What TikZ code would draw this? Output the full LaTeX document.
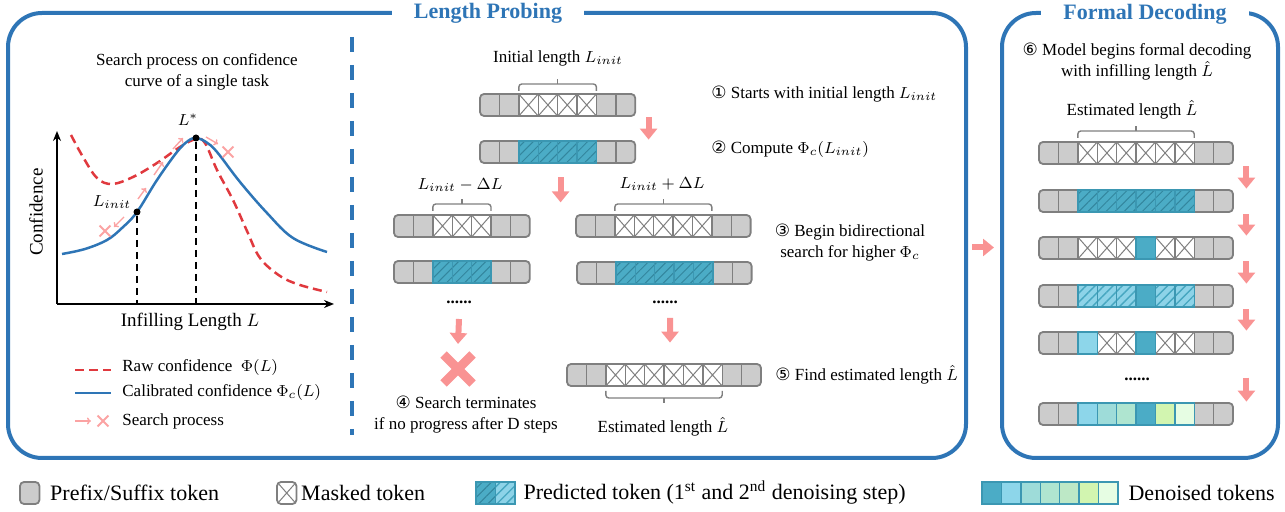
\documentclass[tikz,border=0pt]{standalone}
\usepackage{amssymb,amsmath}
\usepackage{fontspec}
\setmainfont{Liberation Serif}
\newfontfamily\circfont{DejaVu Sans}
\usepackage{xcolor}
\usetikzlibrary{arrows.meta,calc,fit,patterns.meta,shapes.misc,positioning}

\definecolor{panelblue}{HTML}{2E75B6}
\definecolor{rawred}{HTML}{E0393E}
\definecolor{arrpink}{HTML}{F99393}
\definecolor{srchpink}{HTML}{FBA3A3}
\definecolor{tokfill}{HTML}{CCCCCC}
\definecolor{tokline}{HTML}{7F7F7F}
\definecolor{predfill}{HTML}{4BACC6}
\definecolor{predline}{HTML}{3B97B2}
\definecolor{predhatch}{HTML}{33869E}
\definecolor{litefill}{HTML}{8DD3E8}
\definecolor{litehatch}{HTML}{46A6C0}
\definecolor{dnA}{HTML}{4BACC6}
\definecolor{dnB}{HTML}{8DD6EA}
\definecolor{dnC}{HTML}{9EDCD9}
\definecolor{dnD}{HTML}{AFE5D0}
\definecolor{dnE}{HTML}{BDE8C6}
\definecolor{dnF}{HTML}{D2F5B0}
\definecolor{dnG}{HTML}{E6FDE3}

\newcommand{\bodyfont}{\fontsize{8.5}{10.5}\selectfont}
\newcommand{\axisfont}{\fontsize{9.5}{11}\selectfont}
\newcommand{\legfont}{\fontsize{11}{13}\selectfont}
\newcommand{\titlefont}{\fontsize{11}{13}\selectfont\bfseries}
\newcommand{\cnum}[1]{{\circfont #1}}

\def\tokw{19.4}
\def\tokh{22}

% one row of tokens: name, left, top, number of cells, cell types
\newcommand{\tokrow}[5]{%
  \begin{scope}
    \clip[rounded corners=2pt] (#2,#3) rectangle ++(#4*\tokw,\tokh);
    \foreach \tk [count=\i from 0] in {#5}
      \path[tok \tk] (#2+\i*\tokw,#3) rectangle ++(\tokw,\tokh);
  \end{scope}
  \draw[rowframe] (#2,#3) rectangle ++(#4*\tokw,\tokh);
  \foreach \tk [count=\i from 0] in {#5}
    \path[top \tk] (#2+\i*\tokw,#3) rectangle ++(\tokw,\tokh);
  \coordinate (#1-nw) at (#2,#3);
  \coordinate (#1-se) at ($(#2,#3)+(#4*\tokw,\tokh)$);
  \node[fit=(#1-nw)(#1-se), inner sep=0pt] (#1) {};
}

% square braces over / under a group of tokens
\newcommand{\upbrace}[3]{%
  \draw[brace] (#1,#3+7) |- (#2,#3) -- (#2,#3+7);
  \draw[brace] ({(#1+#2)/2},#3) -- ++(0,-5);
}
\newcommand{\downbrace}[3]{%
  \draw[brace] (#1,#3-7) |- (#2,#3) -- (#2,#3-7);
  \draw[brace] ({(#1+#2)/2},#3) -- ++(0,5);
}

\begin{document}
\begin{tikzpicture}[x=0.5pt, y=-0.5pt]

    \tikzstyle{txt} = [font=\bodyfont, inner sep=0pt]
    \tikzstyle{dots} = [font=\bodyfont\bfseries, inner sep=0pt]
    \tikzstyle{legtxt} = [font=\legfont, inner sep=0pt, anchor=west]
    \tikzstyle{axlbl} = [font=\axisfont, inner sep=0pt]
    \tikzstyle{panel} = [draw=panelblue, line width=2pt, rounded corners=17pt, inner sep=0pt]
    \tikzstyle{ptitle} = [font=\titlefont, text=panelblue, fill=white, inner xsep=11pt, inner ysep=2pt]
    \tikzstyle{sepline} = [draw=panelblue, line width=2pt, dash pattern=on 7.5pt off 6.5pt]
    \tikzstyle{bigarrow} = [draw=arrpink, line width=3pt, -{Triangle[width=8.5pt,length=5.5pt]}]
    \tikzstyle{srch} = [draw=srchpink, line width=0.7pt, -{To[length=2pt,width=3.5pt]}]
    \tikzstyle{xmark} = [cross out, draw=srchpink, line width=0.9pt, minimum size=4.5pt, inner sep=0pt]
    \tikzstyle{stopx} = [cross out, draw=arrpink, line width=4.5pt, minimum size=10pt, inner sep=0pt]
    \tikzstyle{dot} = [circle, fill=black, inner sep=0pt, minimum size=3.5pt]
    \tikzstyle{axisline} = [draw=black, line width=1pt, -{Stealth[length=5pt,width=4pt]}]
    \tikzstyle{guide} = [draw=black, line width=0.6pt, dash pattern=on 3.5pt off 2.5pt]
    \tikzstyle{rawline} = [draw=rawred, line width=1.25pt, dash pattern=on 4.5pt off 2.5pt]
    \tikzstyle{calline} = [draw=panelblue, line width=1.25pt]
    \tikzstyle{brace} = [draw=tokline, line width=0.7pt, rounded corners=1.5pt]
    \tikzstyle{rowframe} = [draw=tokline, line width=0.9pt, rounded corners=2pt]
    \tikzset{
        tok g/.style={fill=tokfill, draw=tokline, line width=0.7pt},
        tok m/.style={fill=white, draw=tokline, line width=0.7pt,
            path picture={\draw[tokline, line width=0.5pt]
                (path picture bounding box.north west) -- (path picture bounding box.south east)
                (path picture bounding box.south west) -- (path picture bounding box.north east);}},
        tok p/.style={preaction={fill=predfill}, pattern={Lines[angle=45,distance=3.2pt,line width=0.5pt]},
            pattern color=predhatch, draw=predline, line width=0.7pt},
        tok q/.style={preaction={fill=litefill}, pattern={Lines[angle=45,distance=3.2pt,line width=0.7pt]},
            pattern color=litehatch, draw=predline, line width=0.7pt},
        tok d1/.style={fill=dnA, draw=predline, line width=0.7pt},
        tok d2/.style={fill=dnB, draw=predline, line width=0.7pt},
        tok d3/.style={fill=dnC, draw=predline, line width=0.7pt},
        tok d4/.style={fill=dnD, draw=predline, line width=0.7pt},
        tok d5/.style={fill=dnE, draw=predline, line width=0.7pt},
        tok d6/.style={fill=dnF, draw=predline, line width=0.7pt},
        tok d7/.style={fill=dnG, draw=predline, line width=0.7pt},
        top g/.style={}, top m/.style={},
        top p/.style={tok p}, top q/.style={tok q},
        top d1/.style={tok d1}, top d2/.style={tok d2}, top d3/.style={tok d3},
        top d4/.style={tok d4}, top d5/.style={tok d5}, top d6/.style={tok d6},
        top d7/.style={tok d7},
    }

    \useasboundingbox (0,0) rectangle (1285,512);

    % panels
    \coordinate (pa1) at (8,13);
    \coordinate (pa2) at (966,458);
    \node[panel, fit=(pa1)(pa2)] (probe) {};
    \coordinate (pb1) at (1002,13);
    \coordinate (pb2) at (1278,458);
    \node[panel, fit=(pb1)(pb2)] (decode) {};
    \node[ptitle] (probetitle) at (488,13) {Length Probing};
    \node[ptitle] (decodetitle) at (1145,14) {Formal Decoding};
    \draw[sepline] (352,37) -- (352,435);
    \draw[bigarrow] ($(probe.east)+(4,12)$) -- ($(decode.west)+(-6,12)$);

    % confidence curve
    \node[txt, align=center] (plottitle) at (197,72) {Search process on confidence\\curve of a single task};
    \coordinate (orig) at (57,304);
    \draw[axisline] (orig) -- (57,131);
    \draw[axisline] (orig) -- (334,304);
    \node[axlbl, rotate=90] (ylbl) at (36,212) {Confidence};
    \node[axlbl] (xlbl) at (190,322) {Infilling Length $L$};

    \draw[rawline] plot[smooth, tension=0.6] coordinates {(71,135) (83,157) (97,178) (112,184)
        (133,177) (157,163) (180,147) (196,139) (205,143) (217,170) (233,200) (247,231) (260,258)
        (280,276) (300,285) (327,292)};
    \draw[calline] plot[smooth, tension=0.6] coordinates {(62,254) (85,249) (107,240) (122,228)
        (137,212) (157,180) (177,152) (188,141) (196,138) (206,142) (217,152) (240,182) (267,213)
        (293,238) (327,252)};

    \node[dot] (linit) at (137,212) {};
    \node[dot] (lstar) at (196,138) {};
    \draw[guide] (linit) -- (linit |- orig);
    \draw[guide] (lstar) -- (lstar |- orig);
    \node[txt] (lstarlbl) at (188,120) {$L^{*}$};
    \node[txt] (linitlbl) at (112,202) {$L_{init}$};

    \draw[srch] (138,199) -- (146,188);
    \draw[srch] (154,175) -- (163,162);
    \draw[srch] (173,149) -- (183,138);
    \draw[srch] (124,217) -- (114,227);
    \node[xmark] (xleft) at (105,231) {};
    \draw[srch] (206,137) -- (218,144);
    \node[xmark] (xright) at (228,152) {};

    \draw[rawline] (75,370) -- (111,370);
    \node[txt, anchor=west] (legraw) at (122,368) {Raw confidence\enspace$\Phi(L)$};
    \draw[calline] (75,393) -- (111,393);
    \node[txt, anchor=west] (legcal) at (122,393) {Calibrated confidence $\Phi_c(L)$};
    \draw[srch] (75,421) -- (91,421);
    \node[xmark] (legx) at (103,421) {};
    \node[txt, anchor=west] (legsrch) at (122,421) {Search process};

    % probing steps
    \node[txt] (initlbl) at (558,58) {Initial length $L_{init}$};
    \upbrace{518.8}{596.4}{84}
    \tokrow{r0}{480}{94}{8}{g,g,m,m,m,m,g,g}
    \tokrow{r1}{480}{141}{8}{g,g,p,p,p,p,g,g}
    \draw[bigarrow] ($(r0.south east)+(13,1)$) -- ($(r1.north east)+(13,-1)$);
    \node[txt, anchor=west] (s1) at (711,94) {\cnum{①} Starts with initial length $L_{init}$};
    \node[txt, anchor=west] (s2) at (711,149) {\cnum{②} Compute $\Phi_c(L_{init})$};
    \draw[bigarrow] ($(r1.south)+(3,14)$) -- ($(r1.south)+(3,39)$);

    \node[txt] (minuslbl) at (460,185) {$L_{init}-\Delta L$};
    \node[txt] (pluslbl) at (662,184) {$L_{init}+\Delta L$};
    \upbrace{432.8}{491}{204}
    \upbrace{614.8}{711.8}{204}
    \tokrow{rl0}{394}{215}{7}{g,g,m,m,m,g,g}
    \tokrow{rl1}{394}{261}{7}{g,g,p,p,p,g,g}
    \tokrow{rr0}{576}{215}{9}{g,g,m,m,m,m,m,g,g}
    \tokrow{rr1}{577}{262}{9}{g,g,p,p,p,p,p,g,g}
    \node[txt, align=center] (s3) at (850,243) {\cnum{③} Begin bidirectional\\search for higher $\Phi_c$};

    \node[dots] (dotsl) at (459,302) {......};
    \node[dots] (dotsr) at (665,302) {......};
    \node[stopx] (stop) at (458,369) {};
    \draw[bigarrow] ($(dotsl)+(0,17)$) -- ($(stop)+(0,-25)$);
    \node[txt, align=center] (s4) at (466,415) {\cnum{④} Search terminates\\if no progress after D steps};

    \tokrow{rest}{567}{364}{10}{g,g,m,m,m,m,m,m,g,g}
    \draw[bigarrow] ($(dotsr)+(5,16)$) -- ($(rest.north)+(6,-21)$);
    \downbrace{605.8}{722.2}{398}
    \node[txt] (estlbl) at (663,427) {Estimated length $\hat{L}$};
    \node[txt, anchor=west] (s5) at (775,375) {\cnum{⑤} Find estimated length $\hat{L}$};

    % formal decoding
    \node[txt, align=center] (s6) at (1137,62) {\cnum{⑥} Model begins formal decoding\\with infilling length $\hat{L}$};
    \node[txt] (estlbl2) at (1132,110) {Estimated length $\hat{L}$};
    \upbrace{1077.8}{1194.2}{131}
    \tokrow{f0}{1039}{142}{10}{g,g,m,m,m,m,m,m,g,g}
    \tokrow{f1}{1039}{190}{10}{g,g,p,p,p,p,p,p,g,g}
    \tokrow{f2}{1039}{237}{10}{g,g,m,m,m,d1,m,m,g,g}
    \tokrow{f3}{1039}{285}{10}{g,g,q,q,q,d1,q,q,g,g}
    \tokrow{f4}{1039}{332}{10}{g,g,d2,m,m,d1,m,m,g,g}
    \node[dots] (dotsf) at (1137,379) {......};
    \tokrow{f5}{1039}{403}{10}{g,g,d2,d3,d4,d1,d6,d7,g,g}
    \foreach \a/\b in {f0/f1,f1/f2,f2/f3,f3/f4}
        \draw[bigarrow] ($(\a.south east)+(13,2)$) -- ($(\b.north east)+(13,-1)$);
    \draw[bigarrow] ($(f5.north east)+(13,-25)$) -- ($(f5.north east)+(13,-1)$);

    % legend
    \tokrow{legG}{20}{482}{1}{g}
    \node[legtxt, right=5pt of legG] (legGt) {Prefix/Suffix token};
    \tokrow{legM}{277}{482}{1}{m}
    \node[legtxt, right=2pt of legM] (legMt) {Masked token};
    \tokrow{legP}{476}{482}{2}{p,q}
    \node[legtxt, right=4pt of legP] (legPt) {Predicted token (1\textsuperscript{st} and 2\textsuperscript{nd} denoising step)};
    \tokrow{legD}{982}{482}{7}{d1,d2,d3,d4,d5,d6,d7}
    \node[legtxt, right=5pt of legD] (legDt) {Denoised tokens};

\end{tikzpicture}
\end{document}
